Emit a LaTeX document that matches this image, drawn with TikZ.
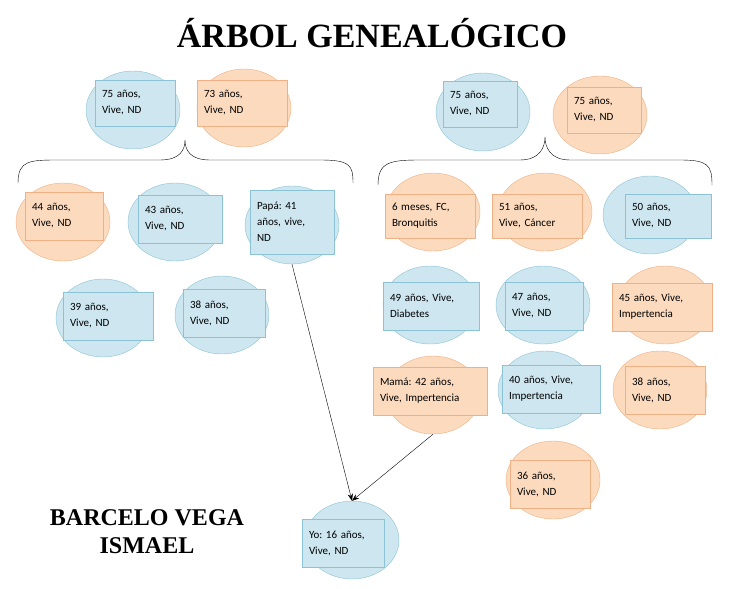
\documentclass[tikz,border=0pt]{standalone}
\usepackage{fontspec}
\setmainfont{Carlito}
\newfontfamily\titlefont{Liberation Serif}
\usetikzlibrary{shapes.geometric, arrows.meta}
\usetikzlibrary{positioning}

\definecolor{azulfondo}{RGB}{205,230,240}
\definecolor{azulborde}{RGB}{140,195,212}
\definecolor{naranjafondo}{RGB}{251,218,190}
\definecolor{naranjaborde}{RGB}{238,176,132}

\tikzset{
  azul/.style={fill=azulfondo, draw=azulborde},
  naranja/.style={fill=naranjafondo, draw=naranjaborde},
  elipse/.style={ellipse, minimum width=94pt, minimum height=78pt},
  caja/.style={rectangle, align=left, inner sep=0pt, font=\fontsize{11}{16}\selectfont}
}

% id, estilo, centro elipse, centro caja, ancho y alto caja, texto
\newcommand{\persona}[7]{%
  \node[elipse, #2] (e-#1) at (#3) {};
  \node[caja, #2, minimum width=#5, minimum height=#6, text width=#5-14pt] (#1) at (#4) {#7};
}

\frenchspacing
\begin{document}
\begin{tikzpicture}[x=1pt, y=-1pt]
  \useasboundingbox (0,0) rectangle (737,589);

  \node[font=\titlefont\bfseries\fontsize{34}{34}\selectfont] (titulo) at (372,33) {ÁRBOL GENEALÓGICO};
  \node[font=\titlefont\bfseries\fontsize{24}{28}\selectfont, align=center] (autor) at (147,532) {BARCELO VEGA\\ISMAEL};

  % abuelos
  \persona{abueloP}{azul}{133,110}{135,103}{80pt}{46pt}{75 años,\\Vive, ND}
  \persona{abuelaP}{naranja}{244,108}{242,103}{90pt}{46pt}{73 años,\\Vive, ND}
  \persona{abueloM}{azul}{483,112}{480,104}{74pt}{46pt}{75 años,\\Vive, ND}
  \persona{abuelaM}{naranja}{600,115}{604,110}{74pt}{46pt}{75 años,\\Vive, ND}

  % llaves
  \draw (18,183) .. controls (18,160) and (30,160) .. (60,160) -- (160,160)
        .. controls (180,160) and (185,150) .. (185,140)
        .. controls (185,150) and (190,160) .. (210,160) -- (320,160)
        .. controls (350,160) and (353,165) .. (353,183);
  \draw (378,185) .. controls (378,162) and (390,160) .. (420,160) -- (520,160)
        .. controls (540,160) and (545,147) .. (545,137)
        .. controls (545,147) and (550,160) .. (570,160) -- (680,160)
        .. controls (708,160) and (712,165) .. (712,185);

  % familia paterna
  \persona{tio44}{naranja}{63,222}{64,216}{78pt}{48pt}{44 años,\\Vive, ND}
  \persona{tio43}{azul}{175,222}{180,219}{84pt}{48pt}{43 años,\\Vive, ND}
  \persona{papa}{azul}{292,225}{292,222}{84pt}{64pt}{Papá: 41\\años, vive,\\ND}
  \persona{tio39}{azul}{103,318}{108,316}{90pt}{48pt}{39 años,\\Vive, ND}
  \persona{tio38}{azul}{222,315}{224,313}{82pt}{48pt}{38 años,\\Vive, ND}

  % familia materna
  \persona{tio6m}{naranja}{433,212}{430,216}{90pt}{44pt}{6 meses, FC,\\Bronquitis}
  \persona{tia51}{naranja}{545,212}{537,216}{90pt}{44pt}{51 años,\\Vive, Cáncer}
  \persona{tio50}{azul}{650,215}{668,216}{86pt}{44pt}{50 años,\\Vive, ND}
  \persona{tio49}{azul}{430,305}{431,306}{96pt}{48pt}{49 años, Vive,\\Diabetes}
  \persona{tio47}{azul}{543,305}{544,306}{78pt}{48pt}{47 años,\\Vive, ND}
  \persona{tia45}{naranja}{665,305}{662,307}{100pt}{48pt}{45 años, Vive,\\Impertencia}
  \persona{mama}{naranja}{433,395}{430,391}{114pt}{48pt}{Mamá: 42 años,\\Vive, Impertencia}
  \persona{tio40}{azul}{545,390}{551,389}{98pt}{48pt}{40 años, Vive,\\Impertencia}
  \persona{tia38}{naranja}{660,390}{665,390}{80pt}{48pt}{38 años,\\Vive, ND}
  \persona{tia36}{naranja}{553,480}{550,484}{80pt}{48pt}{36 años,\\Vive, ND}

  % yo
  \persona{yo}{azul}{352,540}{343,543}{82pt}{48pt}{Yo: 16 años,\\Vive, ND}

  \draw[-{Stealth[length=7pt]}] (e-papa.south) -- (e-yo.north);
  \draw[-{Stealth[length=7pt]}] (e-mama.south) -- (e-yo.north);
\end{tikzpicture}
\end{document}
